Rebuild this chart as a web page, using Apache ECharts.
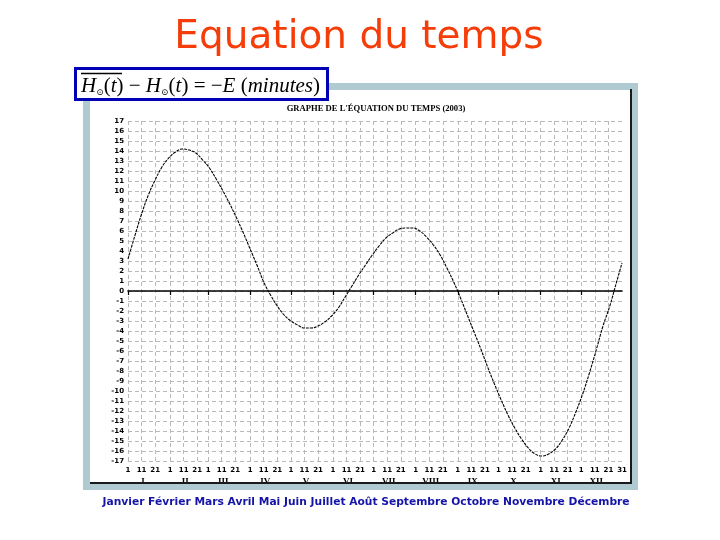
<!DOCTYPE html>
<html><head><meta charset="utf-8">
<script src="https://cdn.jsdelivr.net/npm/echarts@6/dist/echarts.min.js"></script>
<style>html,body{margin:0;padding:0;background:#fff;}#c{width:720px;height:540px;}</style>
</head><body><div id="c"></div>
<script>
// ---- data ----
const monthLengths = [31,28,31,30,31,30,31,31,30,31,30,31];
const romanMonths = ['I','II','III','IV','V','VI','VII','VIII','IX','X','XI','XII'];
const labelDays = [1,11,21];
const monthNames = ['Janvier','Février','Mars','Avril','Mai','Juin','Juillet','Août','Septembre','Octobre','Novembre','Décembre'];
// day-of-year index (0 = 1 janvier) of each sample
const sampleDays = [0,5,10,15,20,25,30,35,40,45,50,55,60,65,70,75,80,85,90,95,100,105,110,115,120,125,130,135,140,145,150,155,160,165,170,175,180,185,190,195,200,205,210,215,220,225,230,235,240,245,250,255,260,265,270,275,280,285,290,295,300,305,310,315,320,325,330,335,340,345,350,355,360,364];
// equation of time (minutes)
const eqTime = [3.2,5.5,7.7,9.6,11.1,12.4,13.3,13.9,14.2,14.1,13.8,13.1,12.3,11.2,10.0,8.7,7.3,5.8,4.2,2.6,0.9,-0.4,-1.5,-2.4,-3.0,-3.4,-3.7,-3.7,-3.5,-3.1,-2.5,-1.7,-0.6,0.5,1.6,2.6,3.6,4.5,5.3,5.8,6.2,6.3,6.3,6.0,5.4,4.6,3.6,2.3,0.9,-0.7,-2.4,-4.1,-5.8,-7.6,-9.3,-10.9,-12.4,-13.7,-14.8,-15.7,-16.3,-16.5,-16.3,-15.8,-14.9,-13.7,-12.1,-10.3,-8.2,-5.9,-3.5,-1.5,0.9,2.8];

// ---- categories ----
const categories = [], dayOfMonth = [], monthOf = [];
monthLengths.forEach((len, m) => {
  for (let d = 1; d <= len; d++) { categories.push(d + '/' + (m + 1)); dayOfMonth.push(d); monthOf.push(m); }
});
const lastIdx = categories.length - 1;

const chart = echarts.init(document.getElementById('c'));
const dashed = { color: '#b9b9b9', width: 1, type: [4, 3] };
chart.setOption({
  animation: false,
  backgroundColor: '#fff',
  grid: { left: 128, right: 98, top: 121, bottom: 79, containLabel: false },
  xAxis: [
    {
      type: 'category', data: categories, boundaryGap: false, position: 'bottom',
      axisLine: { show: true, onZero: true, lineStyle: { color: '#000', width: 1.6 } },
      axisTick: { show: true, length: 4, interval: (i) => dayOfMonth[i] === 1, lineStyle: { color: '#000', width: 1.2 } },
      axisLabel: { show: false }, splitLine: { show: false }
    },
    {
      type: 'category', data: categories, boundaryGap: false, position: 'bottom',
      axisLine: { show: false, onZero: false }, axisTick: { show: false },
      splitLine: { show: true, interval: (i) => labelDays.includes(dayOfMonth[i]), lineStyle: dashed },
      axisLabel: {
        show: true, margin: 3,
        interval: (i) => labelDays.includes(dayOfMonth[i]) || i === lastIdx,
        formatter: (v, i) => {
          const d = dayOfMonth[i];
          if (d === 11) return '{d|' + d + '}\n{r|' + romanMonths[monthOf[i]] + '}';
          return '{d|' + d + '}\n{r| }';
        },
        rich: {
          d: { fontFamily: 'DejaVu Sans', fontWeight: 'bold', fontSize: 7, color: '#000', lineHeight: 12 },
          r: { fontFamily: 'Liberation Serif', fontWeight: 'bold', fontSize: 9, color: '#000', lineHeight: 12, padding: [0, 0, 0, 3] }
        }
      }
    }
  ],
  yAxis: {
    type: 'value', min: -17, max: 17, interval: 1,
    axisLine: { show: false }, axisTick: { show: false },
    axisLabel: { fontFamily: 'DejaVu Sans', fontWeight: 'bold', fontSize: 7, color: '#000', margin: 4 },
    splitLine: { show: true, lineStyle: dashed }
  },
  series: [{
    type: 'line', xAxisIndex: 0, yAxisIndex: 0,
    data: sampleDays.map((d, i) => [d, eqTime[i]]),
    smooth: 0.4, showSymbol: false, symbol: 'none',
    lineStyle: { color: '#000', width: 1.1, type: [3, 1] }, z: 5
  }],
  graphic: [
    { type: 'rect', z: 0, shape: { x: 86.5, y: 86.5, width: 548, height: 400 }, style: { fill: null, stroke: '#b0cad2', lineWidth: 7 } },
    { type: 'line', z: 1, shape: { x1: 90, y1: 483, x2: 632, y2: 483 }, style: { stroke: '#1a1a1a', lineWidth: 2 } },
    { type: 'line', z: 1, shape: { x1: 631, y1: 89, x2: 631, y2: 484 }, style: { stroke: '#1a1a1a', lineWidth: 2 } },
    { type: 'rect', z: 10, shape: { x: 75.5, y: 68.5, width: 252, height: 31 }, style: { fill: '#fff', stroke: '#0000b4', lineWidth: 3 } },
    { type: 'line', z: 11, shape: { x1: 81, y1: 73.5, x2: 122, y2: 73.5 }, style: { stroke: '#000', lineWidth: 1.3 } },
    {
      type: 'text', z: 11, x: 81, y: 85,
      style: {
        text: '{i|H}{s|⊙}{r|(}{i|t}{r|) − }{i|H}{s|⊙}{r|(}{i|t}{r|) = −}{i|E}{r| (}{i|minutes}{r|)}',
        verticalAlign: 'middle',
        rich: {
          i: { fontFamily: 'Liberation Serif', fontStyle: 'italic', fontSize: 21, fill: '#000', lineHeight: 24, verticalAlign: 'bottom' },
          r: { fontFamily: 'Liberation Serif', fontSize: 21, fill: '#000', lineHeight: 24, verticalAlign: 'bottom' },
          s: { fontFamily: 'DejaVu Serif', fontSize: 9, fill: '#000', lineHeight: 10, verticalAlign: 'bottom' }
        }
      }
    },
    { type: 'text', z: 11, x: 359, y: 38, style: { text: 'Equation du temps', fontFamily: 'DejaVu Sans', fontSize: 39, fill: '#f53d0a', align: 'center', verticalAlign: 'middle' } },
    { type: 'text', z: 11, x: 376, y: 109, style: { text: "GRAPHE DE L'ÉQUATION DU TEMPS (2003)", fontFamily: 'Liberation Serif', fontWeight: 'bold', fontSize: 8.6, fill: '#000', align: 'center', verticalAlign: 'middle' } },
    { type: 'text', z: 11, x: 366, y: 502, style: { text: monthNames.join(' '), fontFamily: 'DejaVu Sans', fontWeight: 'bold', fontSize: 10.7, fill: '#1414a8', align: 'center', verticalAlign: 'middle' } }
  ]
});
</script></body></html>
